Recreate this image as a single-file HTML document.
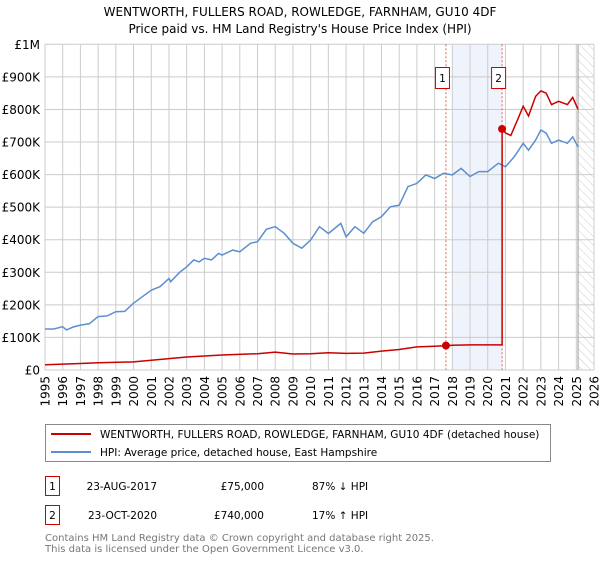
<!DOCTYPE html>
<html><head><meta charset="utf-8"><style>
body{margin:0;background:#fff;font-family:"Liberation Sans","DejaVu Sans",sans-serif;}
</style></head><body>
<svg width="600" height="560" xmlns="http://www.w3.org/2000/svg" font-family="'DejaVu Sans','Liberation Sans',sans-serif">
<defs><pattern id="hatch" width="6" height="6" patternUnits="userSpaceOnUse" patternTransform="rotate(-45)"><line x1="0" y1="0" x2="0" y2="6" stroke="#ccc" stroke-width="1"/></pattern></defs>
<text x="300" y="16" text-anchor="middle" font-size="12">WENTWORTH, FULLERS ROAD, ROWLEDGE, FARNHAM, GU10 4DF</text>
<text x="300" y="33" text-anchor="middle" font-size="12">Price paid vs. HM Land Registry's House Price Index (HPI)</text>
<g id="grid"></g><g id="marks"></g><g id="axes"></g>
<g>
<rect x="45.5" y="424.5" width="505" height="37" fill="#fff" stroke="#888"/>
<line x1="51" y1="434" x2="91" y2="434" stroke="#cc0000" stroke-width="2"/>
<text x="100" y="438" font-size="10.5">WENTWORTH, FULLERS ROAD, ROWLEDGE, FARNHAM, GU10 4DF (detached house)</text>
<line x1="51" y1="452" x2="91" y2="452" stroke="#5b8fd0" stroke-width="2"/>
<text x="100" y="456" font-size="10.5">HPI: Average price, detached house, East Hampshire</text>
</g>
<g font-size="10.5">
<rect x="45.5" y="476.5" width="14" height="19" fill="#fff" stroke="#cc0000"/>
<text x="52.5" y="490" text-anchor="middle">1</text>
<text x="157" y="490" text-anchor="end">23-AUG-2017</text>
<text x="264" y="490" text-anchor="end">£75,000</text>
<text x="312" y="490">87% ↓ HPI</text>
<rect x="45.5" y="505.5" width="14" height="19" fill="#fff" stroke="#cc0000"/>
<text x="52.5" y="519" text-anchor="middle">2</text>
<text x="157" y="519" text-anchor="end">23-OCT-2020</text>
<text x="264" y="519" text-anchor="end">£740,000</text>
<text x="312" y="519">17% ↑ HPI</text>
</g>
<text x="45" y="541" font-size="10" fill="#777">Contains HM Land Registry data © Crown copyright and database right 2025.</text>
<text x="45" y="552" font-size="10" fill="#777">This data is licensed under the Open Government Licence v3.0.</text>
</svg>
<script>
const yTickValues=[0,100000,200000,300000,400000,500000,600000,700000,800000,900000,1000000];
const yTickLabels=["£0","£100K","£200K","£300K","£400K","£500K","£600K","£700K","£800K","£900K","£1M"];
const xTickYears=[1995,1996,1997,1998,1999,2000,2001,2002,2003,2004,2005,2006,2007,2008,2009,2010,2011,2012,2013,2014,2015,2016,2017,2018,2019,2020,2021,2022,2023,2024,2025,2026];
const hpiYears=[1995,1995.5,1996,1996.2,1996.6,1997,1997.5,1998,1998.5,1999,1999.5,2000,2000.5,2001,2001.5,2002,2002.1,2002.6,2003,2003.4,2003.7,2004,2004.4,2004.8,2005,2005.6,2006,2006.6,2007,2007.5,2008,2008.5,2009,2009.5,2010,2010.5,2011,2011.7,2012,2012.5,2013,2013.5,2014,2014.5,2015,2015.5,2016,2016.5,2017,2017.5,2018,2018.5,2019,2019.5,2020,2020.6,2021,2021.5,2022,2022.3,2022.7,2023,2023.3,2023.6,2024,2024.5,2024.8,2025.1];
const hpiValues=[126000,126000,133000,123000,132000,138000,142000,164000,166000,179000,180000,205000,225000,245000,256000,281000,271000,300000,317000,338000,332000,343000,338000,358000,353000,368000,363000,389000,394000,432000,440000,420000,389000,374000,399000,440000,419000,450000,409000,440000,420000,455000,471000,501000,506000,563000,573000,599000,588000,604000,599000,619000,594000,609000,609000,635000,624000,655000,696000,675000,706000,737000,727000,696000,706000,696000,716000,684000];
const propYears=[1995,1997,1998,2000,2001,2002,2003,2004,2005,2007,2008,2009,2010,2011,2012,2013,2014,2015,2016,2017,2017.64,2018,2019,2020,2020.81,2020.81,2021,2021.3,2021.7,2022,2022.3,2022.7,2023,2023.3,2023.6,2024,2024.5,2024.8,2025.1];
const propValues=[16000,20000,22000,25000,30000,35000,40000,43000,46000,50000,55000,49000,50000,53000,51000,52000,58000,63000,71000,73000,75000,76000,77000,77000,77000,740000,728000,720000,770000,810000,780000,840000,857000,850000,815000,825000,815000,837000,800000];
const saleYears=[2017.64,2020.81];
const salePrices=[75000,740000];
const saleLabels=["1","2"];
const shadeRange=[2018,2020.81];
const hatchStart=2025.1;

const X0=45,X1=594,Y0=370,Y1=44.3,YEAR0=1995,YEAR1=2026,VMAX=1000000;
const xs=y=>X0+(y-YEAR0)/(YEAR1-YEAR0)*(X1-X0);
const ys=v=>Y0-v/VMAX*(Y0-Y1);
const NS="http://www.w3.org/2000/svg";
function mk(tag,attrs,parent){const e=document.createElementNS(NS,tag);for(const k in attrs)e.setAttribute(k,attrs[k]);parent.appendChild(e);return e;}
const grid=document.getElementById('grid'),marks=document.getElementById('marks'),axes=document.getElementById('axes');

let r=mk('rect',{x:xs(shadeRange[0]),y:Y1,width:xs(shadeRange[1])-xs(shadeRange[0]),height:Y0-Y1,fill:'#eef3fc'},grid);


r=mk('rect',{x:xs(hatchStart),y:Y1,width:X1-xs(hatchStart),height:Y0-Y1,fill:'url(#hatch)'},grid);


yTickValues.forEach((v,i)=>{
  const l=mk('line',{x1:X0,x2:X1,y1:ys(v),y2:ys(v),stroke:'#ccc','stroke-width':1},grid);
  
  
  const t=mk('text',{x:X0-5,y:ys(v)+4.5,'text-anchor':'end','font-size':12},axes);
  t.textContent=yTickLabels[i];
  
  
});
xTickYears.forEach(yr=>{
  const l=mk('line',{x1:xs(yr),x2:xs(yr),y1:Y1,y2:Y0,stroke:'#ccc','stroke-width':1},grid);
  
  
  const t=mk('text',{x:0,y:0,'text-anchor':'end','font-size':12,transform:`translate(${xs(yr)+4.5},${Y0+6}) rotate(-90)`},axes);
  t.textContent=yr;
  
  
});
let vl=mk('line',{x1:xs(hatchStart),x2:xs(hatchStart),y1:Y1,y2:Y0,stroke:'#999','stroke-width':1},grid);


saleYears.forEach((yr,i)=>{
  const l=mk('line',{x1:xs(yr),x2:xs(yr),y1:Y1,y2:Y0,stroke:'#e06060','stroke-width':1,'stroke-dasharray':'2,2'},grid);
  
  
});
const path=(xa,va)=>xa.map((x,i)=>(i?'L':'M')+xs(x).toFixed(1)+','+ys(va[i]).toFixed(1)).join('');
let p=mk('path',{d:path(hpiYears,hpiValues),fill:'none',stroke:'#5b8fd0','stroke-width':1.5},marks);


p=mk('path',{d:path(propYears,propValues),fill:'none',stroke:'#cc0000','stroke-width':1.5},marks);


saleYears.forEach((yr,i)=>{
  const c=mk('circle',{cx:xs(yr),cy:ys(salePrices[i]),r:4,fill:'#cc0000'},marks);
  
  
  const b=mk('rect',{x:xs(yr)-10.5,y:67.5,width:14,height:21,fill:'#fff',stroke:'#cc0000'},marks);
  
  
  const t=mk('text',{x:xs(yr)-3.5,y:82,'text-anchor':'middle','font-size':10.5},marks);
  t.textContent=saleLabels[i];
  
  
});
</script>
</body></html>
